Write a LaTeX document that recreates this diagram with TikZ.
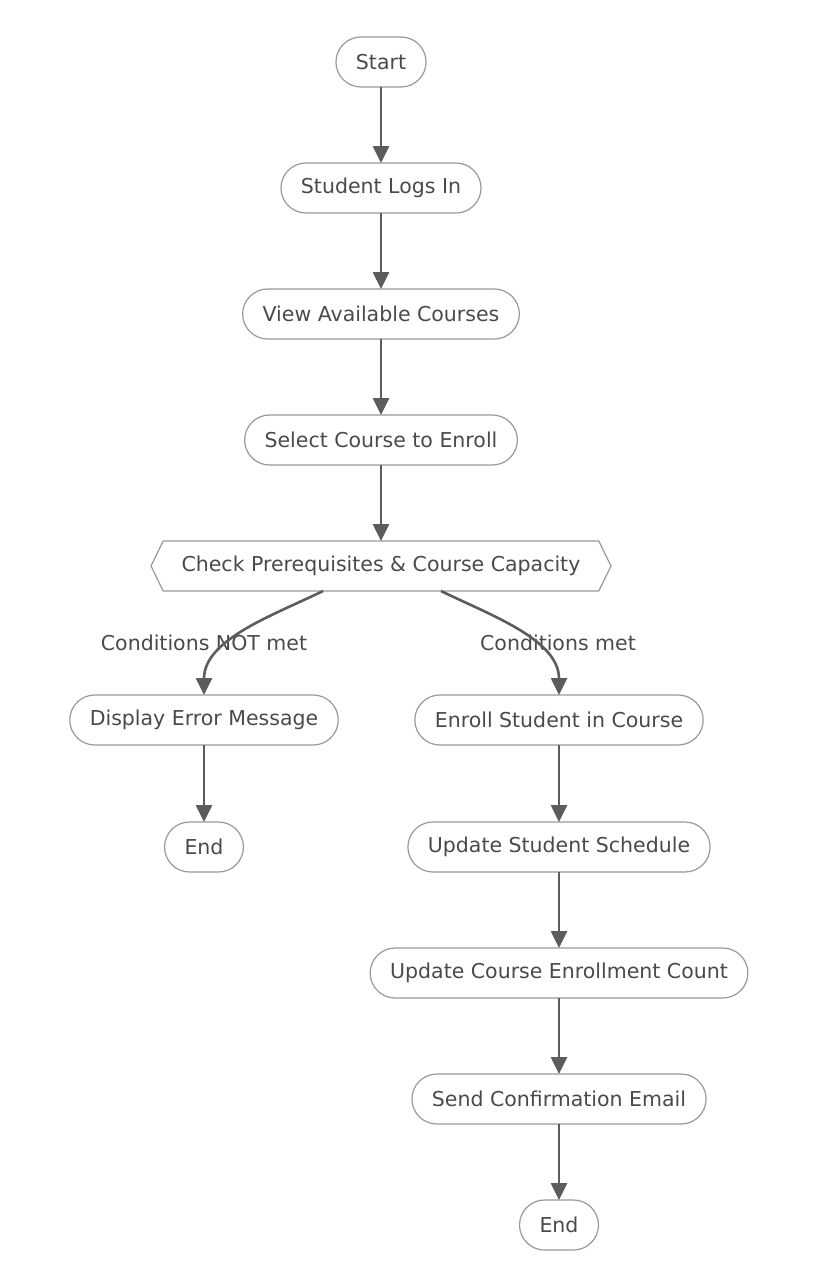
\documentclass[tikz,border=0pt]{standalone}
\usepackage{fontspec}
\setmainfont{DejaVu Sans}
\usetikzlibrary{arrows.meta,shapes.symbols}

\definecolor{txtgray}{HTML}{4A4A4A}
\definecolor{linegray}{HTML}{5C5C5C}
\definecolor{boxgray}{HTML}{999999}

\begin{document}
\begin{tikzpicture}[x=1pt, y=-1pt,
	every node/.style={font=\fontsize{20.5}{24}\selectfont, text=txtgray},
	stepbox/.style={draw=boxgray, line width=1.2pt, fill=white, rounded corners=25pt,
		minimum height=50pt, inner xsep=20pt, outer sep=0pt},
	checkbox/.style={draw=boxgray, line width=1.2pt, fill=white, signal, signal to=west and east,
		signal pointer angle=128, minimum height=50pt, minimum width=460pt, outer sep=0pt},
	flow/.style={draw=linegray, line width=2.6pt, -{Triangle[length=17pt, width=16pt]}}]
			\useasboundingbox (0,0) rectangle (815,1270);

			% Nodes
			\node[stepbox] (start) at (381,62) {Start};
			\node[stepbox] (login) at (381,188) {Student Logs In};
			\node[stepbox] (view) at (381,314) {View Available Courses};
			\node[stepbox] (select) at (381,440) {Select Course to Enroll};
			\node[checkbox] (check) at (381,566) {Check Prerequisites \& Course Capacity};
			\node[stepbox] (error) at (204,720) {Display Error Message};
			\node[stepbox] (endA) at (204,847) {End};
			\node[stepbox] (enroll) at (559,720) {Enroll Student in Course};
			\node[stepbox] (sched) at (559,847) {Update Student Schedule};
			\node[stepbox] (count) at (559,973) {Update Course Enrollment Count};
			\node[stepbox] (email) at (559,1099) {Send Confirmation Email};
			\node[stepbox] (endB) at (559,1225) {End};

			% Branch labels
			\node (lblNot) at (204,643) {Conditions NOT met};
			\node (lblMet) at (558,643) {Conditions met};

			% Links
			\draw[flow] (start) -- (login);
			\draw[flow] (login) -- (view);
			\draw[flow] (view) -- (select);
			\draw[flow] (select) -- (check);
			\draw[flow] ([xshift=-58pt]check.south) to[out=-154, in=90, looseness=0.9] (error.north);
			\draw[flow] ([xshift=60pt]check.south) to[out=-26, in=90, looseness=0.9] (enroll.north);
			\draw[flow] (error) -- (endA);
			\draw[flow] (enroll) -- (sched);
			\draw[flow] (sched) -- (count);
			\draw[flow] (count) -- (email);
			\draw[flow] (email) -- (endB);
		\end{tikzpicture}
\end{document}
